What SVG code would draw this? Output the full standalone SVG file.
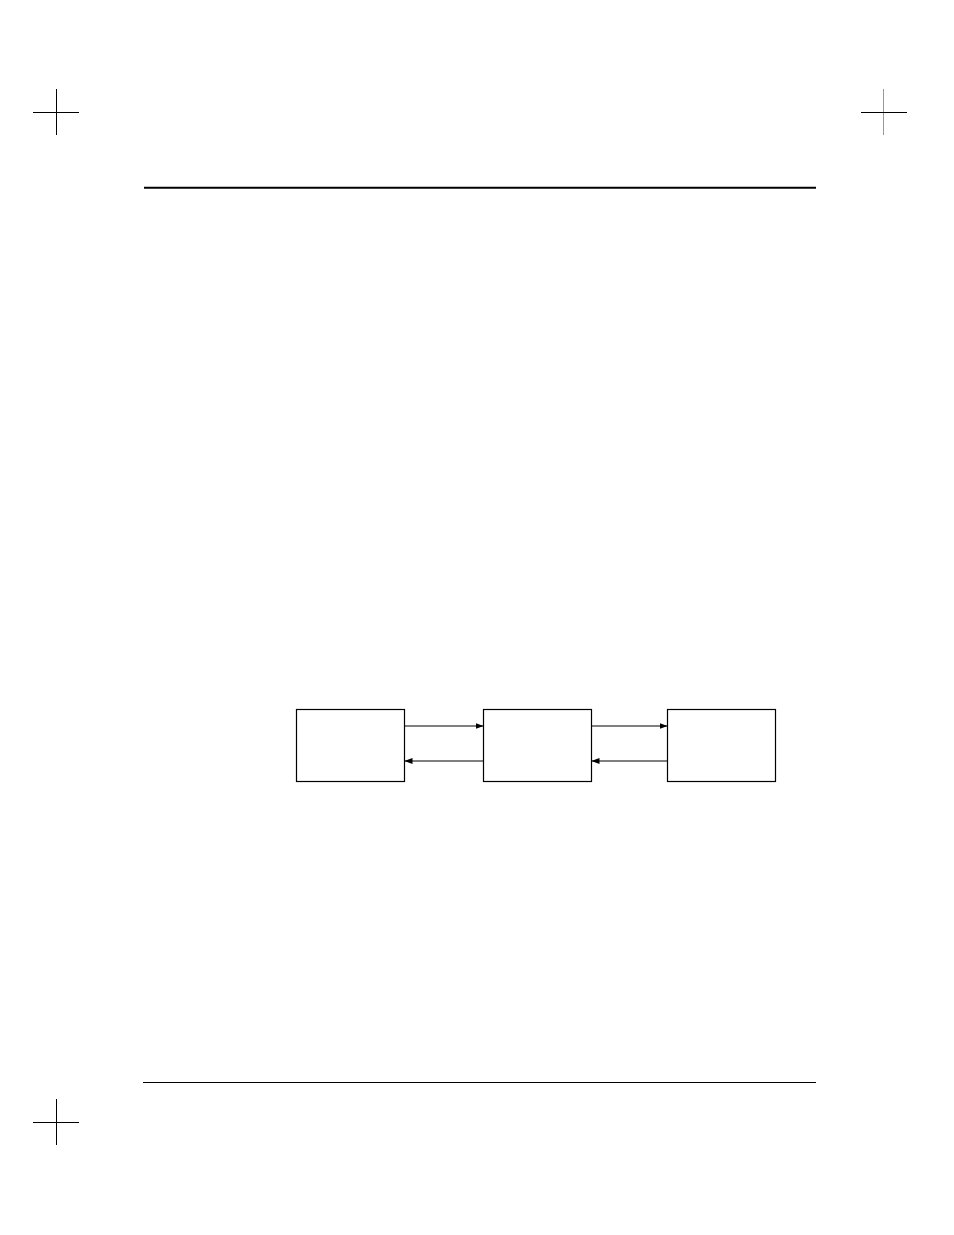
<svg xmlns="http://www.w3.org/2000/svg" width="954" height="1235" viewBox="0 0 954 1235">
<style>
.box{fill:#fff;stroke:#000;stroke-width:1.2}
.conn{stroke:#000;stroke-width:1.2;fill:none}
.mark{stroke:#000;stroke-width:1}
</style>
<defs>
<marker id="ah" viewBox="0 0 8 6" refX="8" refY="3" markerWidth="8" markerHeight="6" markerUnits="userSpaceOnUse" orient="auto">
<path d="M0,0 L8,3 L0,6 Z" fill="#000"/>
</marker>
</defs>
<rect width="954" height="1235" fill="#fff"/>
<g id="page-marks">
<line class="mark" x1="56.5" y1="89" x2="56.5" y2="135"/>
<line class="mark" x1="33" y1="112.5" x2="79" y2="112.5"/>
<line x1="883.5" y1="89" x2="883.5" y2="135" stroke="#999" stroke-width="1"/>
<line class="mark" x1="861" y1="112.5" x2="907" y2="112.5"/>
<line class="mark" x1="56.5" y1="1099" x2="56.5" y2="1145"/>
<line class="mark" x1="33" y1="1122.5" x2="79" y2="1122.5"/>
<line x1="144" y1="187.7" x2="816" y2="187.7" stroke="#000" stroke-width="2"/>
<line x1="143" y1="1082.5" x2="816" y2="1082.5" stroke="#000" stroke-width="1"/>
</g>
<g id="node1"><rect class="box" x="296.5" y="709.5" width="108" height="72"/></g>
<g id="node2"><rect class="box" x="483.5" y="709.5" width="108" height="72"/></g>
<g id="node3"><rect class="box" x="667.5" y="709.5" width="108" height="72"/></g>
<g id="connectors">
<line class="conn" x1="404.5" y1="726" x2="483.5" y2="726" marker-end="url(#ah)"/>
<line class="conn" x1="483.5" y1="761" x2="404.5" y2="761" marker-end="url(#ah)"/>
<line class="conn" x1="591.5" y1="726" x2="667.5" y2="726" marker-end="url(#ah)"/>
<line class="conn" x1="667.5" y1="761" x2="591.5" y2="761" marker-end="url(#ah)"/>
</g>
</svg>
